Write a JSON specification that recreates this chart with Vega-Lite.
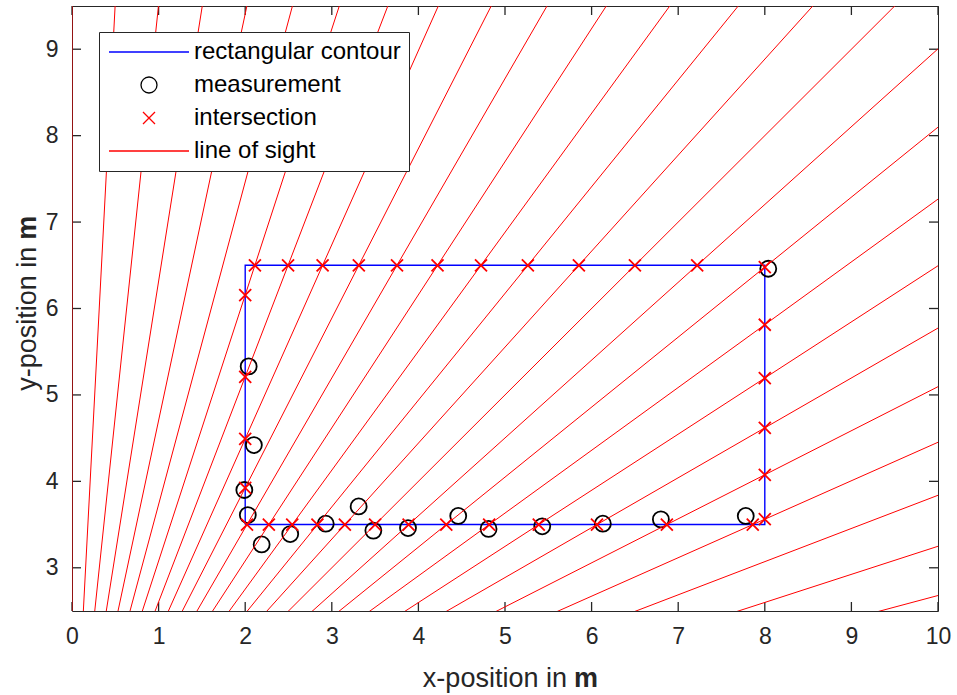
{
  "$schema": "https://vega.github.io/schema/vega-lite/v6.json",
  "width": 866,
  "height": 605,
  "autosize": {"type": "none"},
  "padding": {"left": 72, "top": 6, "right": 19, "bottom": 84},
  "background": "white",
  "config": {
    "font": "Liberation Sans",
    "view": {"stroke": null},
    "axis": {
      "grid": false,
      "title": null,
      "ticks": false,
      "domainColor": "#262626",
      "domainWidth": 1,
      "labelFont": "Liberation Sans",
      "labelFontSize": 23,
      "labelColor": "#262626",
      "labelFlush": false,
      "labelPadding": 14
    }
  },
  "datasets": {
    "xticks": [{"v": 0}, {"v": 1}, {"v": 2}, {"v": 3}, {"v": 4}, {"v": 5}, {"v": 6}, {"v": 7}, {"v": 8}, {"v": 9}, {"v": 10}],
    "yticks": [{"v": 3}, {"v": 4}, {"v": 5}, {"v": 6}, {"v": 7}, {"v": 8}, {"v": 9}],
    "contour": [
      {"series": "rectangular contour", "step": 1, "x": 2, "y": 3.5},
      {"series": "rectangular contour", "step": 2, "x": 8, "y": 3.5},
      {"series": "rectangular contour", "step": 3, "x": 8, "y": 6.5},
      {"series": "rectangular contour", "step": 4, "x": 2, "y": 6.5},
      {"series": "rectangular contour", "step": 5, "x": 2, "y": 3.5}
    ],
    "markers": [
      {"series": "measurement", "x": 2.04, "y": 5.33},
      {"series": "measurement", "x": 2.10, "y": 4.42},
      {"series": "measurement", "x": 1.99, "y": 3.90},
      {"series": "measurement", "x": 2.03, "y": 3.61},
      {"series": "measurement", "x": 2.19, "y": 3.27},
      {"series": "measurement", "x": 2.52, "y": 3.39},
      {"series": "measurement", "x": 2.93, "y": 3.51},
      {"series": "measurement", "x": 3.31, "y": 3.71},
      {"series": "measurement", "x": 3.48, "y": 3.43},
      {"series": "measurement", "x": 3.88, "y": 3.46},
      {"series": "measurement", "x": 4.46, "y": 3.60},
      {"series": "measurement", "x": 4.81, "y": 3.45},
      {"series": "measurement", "x": 5.43, "y": 3.48},
      {"series": "measurement", "x": 6.13, "y": 3.51},
      {"series": "measurement", "x": 6.80, "y": 3.56},
      {"series": "measurement", "x": 7.78, "y": 3.60},
      {"series": "measurement", "x": 8.04, "y": 6.46},
      {"series": "intersection", "x": 2, "y": 6.155},
      {"series": "intersection", "x": 2, "y": 5.210},
      {"series": "intersection", "x": 2, "y": 4.492},
      {"series": "intersection", "x": 2, "y": 3.925},
      {"series": "intersection", "x": 2.112, "y": 6.5},
      {"series": "intersection", "x": 2.495, "y": 6.5},
      {"series": "intersection", "x": 2.894, "y": 6.5},
      {"series": "intersection", "x": 3.312, "y": 6.5},
      {"series": "intersection", "x": 3.753, "y": 6.5},
      {"series": "intersection", "x": 4.221, "y": 6.5},
      {"series": "intersection", "x": 4.723, "y": 6.5},
      {"series": "intersection", "x": 5.264, "y": 6.5},
      {"series": "intersection", "x": 5.853, "y": 6.5},
      {"series": "intersection", "x": 6.5, "y": 6.5},
      {"series": "intersection", "x": 7.219, "y": 6.5},
      {"series": "intersection", "x": 2.021, "y": 3.5},
      {"series": "intersection", "x": 2.273, "y": 3.5},
      {"series": "intersection", "x": 2.543, "y": 3.5},
      {"series": "intersection", "x": 2.834, "y": 3.5},
      {"series": "intersection", "x": 3.151, "y": 3.5},
      {"series": "intersection", "x": 3.5, "y": 3.5},
      {"series": "intersection", "x": 3.887, "y": 3.5},
      {"series": "intersection", "x": 4.322, "y": 3.5},
      {"series": "intersection", "x": 4.817, "y": 3.5},
      {"series": "intersection", "x": 5.390, "y": 3.5},
      {"series": "intersection", "x": 6.062, "y": 3.5},
      {"series": "intersection", "x": 6.869, "y": 3.5},
      {"series": "intersection", "x": 7.861, "y": 3.5},
      {"series": "intersection", "x": 8, "y": 6.478},
      {"series": "intersection", "x": 8, "y": 5.812},
      {"series": "intersection", "x": 8, "y": 5.195},
      {"series": "intersection", "x": 8, "y": 4.619},
      {"series": "intersection", "x": 8, "y": 4.076},
      {"series": "intersection", "x": 8, "y": 3.562}
    ],
    "rays": [
      {"series": "line of sight", "angle": 90, "x0": 0, "y0": 0, "x1": 0, "y1": 15},
      {"series": "line of sight", "angle": 87, "x0": 0, "y0": 0, "x1": 0.785, "y1": 14.979},
      {"series": "line of sight", "angle": 84, "x0": 0, "y0": 0, "x1": 1.568, "y1": 14.918},
      {"series": "line of sight", "angle": 81, "x0": 0, "y0": 0, "x1": 2.346, "y1": 14.815},
      {"series": "line of sight", "angle": 78, "x0": 0, "y0": 0, "x1": 3.119, "y1": 14.672},
      {"series": "line of sight", "angle": 75, "x0": 0, "y0": 0, "x1": 3.882, "y1": 14.489},
      {"series": "line of sight", "angle": 72, "x0": 0, "y0": 0, "x1": 4.635, "y1": 14.266},
      {"series": "line of sight", "angle": 69, "x0": 0, "y0": 0, "x1": 5.376, "y1": 14.004},
      {"series": "line of sight", "angle": 66, "x0": 0, "y0": 0, "x1": 6.101, "y1": 13.703},
      {"series": "line of sight", "angle": 63, "x0": 0, "y0": 0, "x1": 6.810, "y1": 13.365},
      {"series": "line of sight", "angle": 60, "x0": 0, "y0": 0, "x1": 7.5, "y1": 12.990},
      {"series": "line of sight", "angle": 57, "x0": 0, "y0": 0, "x1": 8.170, "y1": 12.580},
      {"series": "line of sight", "angle": 54, "x0": 0, "y0": 0, "x1": 8.817, "y1": 12.135},
      {"series": "line of sight", "angle": 51, "x0": 0, "y0": 0, "x1": 9.440, "y1": 11.657},
      {"series": "line of sight", "angle": 48, "x0": 0, "y0": 0, "x1": 10.037, "y1": 11.147},
      {"series": "line of sight", "angle": 45, "x0": 0, "y0": 0, "x1": 10.607, "y1": 10.607},
      {"series": "line of sight", "angle": 42, "x0": 0, "y0": 0, "x1": 11.147, "y1": 10.037},
      {"series": "line of sight", "angle": 39, "x0": 0, "y0": 0, "x1": 11.657, "y1": 9.440},
      {"series": "line of sight", "angle": 36, "x0": 0, "y0": 0, "x1": 12.135, "y1": 8.817},
      {"series": "line of sight", "angle": 33, "x0": 0, "y0": 0, "x1": 12.580, "y1": 8.170},
      {"series": "line of sight", "angle": 30, "x0": 0, "y0": 0, "x1": 12.990, "y1": 7.5},
      {"series": "line of sight", "angle": 27, "x0": 0, "y0": 0, "x1": 13.365, "y1": 6.810},
      {"series": "line of sight", "angle": 24, "x0": 0, "y0": 0, "x1": 13.703, "y1": 6.101},
      {"series": "line of sight", "angle": 21, "x0": 0, "y0": 0, "x1": 14.004, "y1": 5.376},
      {"series": "line of sight", "angle": 18, "x0": 0, "y0": 0, "x1": 14.266, "y1": 4.635},
      {"series": "line of sight", "angle": 15, "x0": 0, "y0": 0, "x1": 14.489, "y1": 3.882}
    ]
  },
  "resolve": {"axis": {"x": "independent", "y": "independent"}},
  "layer": [
    {
      "data": {"name": "xticks"},
      "mark": {"type": "rule", "strokeWidth": 1.3, "color": "#262626", "opacity": 1},
      "encoding": {
        "x": {"field": "v", "type": "quantitative", "axis": null},
        "y": {"datum": 2.5, "type": "quantitative", "axis": null},
        "y2": {"datum": 2.604}
      }
    },
    {
      "data": {"name": "xticks"},
      "mark": {"type": "rule", "strokeWidth": 1.3, "color": "#262626", "opacity": 1},
      "encoding": {
        "x": {"field": "v", "type": "quantitative", "axis": null},
        "y": {"datum": 9.5, "type": "quantitative", "axis": null},
        "y2": {"datum": 9.396}
      }
    },
    {
      "data": {"name": "yticks"},
      "mark": {"type": "rule", "strokeWidth": 1.3, "color": "#262626", "opacity": 1},
      "encoding": {
        "y": {"field": "v", "type": "quantitative", "axis": null},
        "x": {"datum": 0, "type": "quantitative", "axis": null},
        "x2": {"datum": 0.104}
      }
    },
    {
      "data": {"name": "yticks"},
      "mark": {"type": "rule", "strokeWidth": 1.3, "color": "#262626", "opacity": 1},
      "encoding": {
        "y": {"field": "v", "type": "quantitative", "axis": null},
        "x": {"datum": 10, "type": "quantitative", "axis": null},
        "x2": {"datum": 9.896}
      }
    },
    {
      "data": {"name": "contour"},
      "mark": {"type": "line", "strokeWidth": 1.4, "opacity": 1},
      "encoding": {
        "x": {"field": "x", "type": "quantitative", "scale": {"domain": [0, 10], "nice": false, "zero": false},
              "axis": {"orient": "bottom", "values": [0, 1, 2, 3, 4, 5, 6, 7, 8, 9, 10]}},
        "y": {"field": "y", "type": "quantitative", "scale": {"domain": [2.5, 9.5], "nice": false, "zero": false},
              "axis": {"orient": "left", "values": [3, 4, 5, 6, 7, 8, 9]}},
        "order": {"field": "step"},
        "color": {"field": "series", "type": "nominal"}
      }
    },
    {
      "data": {"name": "markers"},
      "mark": {"type": "point", "filled": false, "size": 400, "strokeWidth": 1.8, "opacity": 1},
      "encoding": {
        "x": {"field": "x", "type": "quantitative",
              "axis": {"orient": "top", "values": [0, 1, 2, 3, 4, 5, 6, 7, 8, 9, 10], "labels": false}},
        "y": {"field": "y", "type": "quantitative",
              "axis": {"orient": "right", "values": [3, 4, 5, 6, 7, 8, 9], "labels": false}},
        "color": {
          "field": "series", "type": "nominal",
          "scale": {
            "domain": ["rectangular contour", "measurement", "intersection", "line of sight"],
            "range": ["#0000ff", "#000000", "#ff0000", "#ff0000"]
          },
          "legend": {
            "orient": "none", "legendX": 27, "legendY": 26, "title": null,
            "labelFont": "Liberation Sans", "labelFontSize": 24, "labelColor": "#000000", "labelLimit": 0,
            "symbolSize": 400, "symbolStrokeWidth": 1.3, "symbolOffset": 30,
            "strokeColor": "#262626", "fillColor": "white", "padding": 8,
            "rowPadding": 9, "labelOffset": 33
          }
        },
        "shape": {
          "field": "series", "type": "nominal",
          "scale": {
            "domain": ["rectangular contour", "measurement", "intersection", "line of sight"],
            "range": [
              "M-4,0L4,0",
              "M0.8,0A0.8,0.8,0,1,1,-0.8,0A0.8,0.8,0,1,1,0.8,0Z",
              "M-0.6,-0.6L0.6,0.6M-0.6,0.6L0.6,-0.6",
              "M-4,0L4,0"
            ]
          },
          "legend": {
            "orient": "none", "legendX": 27, "legendY": 26, "title": null,
            "labelFont": "Liberation Sans", "labelFontSize": 24, "labelColor": "#000000", "labelLimit": 0,
            "symbolSize": 400, "symbolStrokeWidth": 1.3, "symbolOffset": 30,
            "strokeColor": "#262626", "fillColor": "white", "padding": 8,
            "rowPadding": 9, "labelOffset": 33
          }
        }
      }
    },
    {
      "data": {"name": "rays"},
      "mark": {"type": "rule", "strokeWidth": 1, "clip": true, "opacity": 1},
      "encoding": {
        "x": {"field": "x0", "type": "quantitative", "axis": null},
        "y": {"field": "y0", "type": "quantitative", "axis": null},
        "x2": {"field": "x1"},
        "y2": {"field": "y1"},
        "color": {"field": "series", "type": "nominal"}
      }
    },
    {
      "data": {"values": [{"label": "x-position in"}]},
      "mark": {"type": "text", "align": "right", "baseline": "middle", "dy": 68, "dx": -3, "fontSize": 27, "color": "#262626"},
      "encoding": {
        "x": {"datum": 5.75, "type": "quantitative", "axis": null},
        "y": {"datum": 2.5, "type": "quantitative", "axis": null},
        "text": {"field": "label"}
      }
    },
    {
      "data": {"values": [{"label": "m"}]},
      "mark": {"type": "text", "align": "left", "baseline": "middle", "dy": 68, "dx": 4, "fontSize": 27, "fontWeight": "bold", "color": "#262626"},
      "encoding": {
        "x": {"datum": 5.75, "type": "quantitative", "axis": null},
        "y": {"datum": 2.5, "type": "quantitative", "axis": null},
        "text": {"field": "label"}
      }
    },
    {
      "data": {"values": [{"label": "y-position in"}]},
      "mark": {"type": "text", "align": "right", "baseline": "middle", "angle": 270, "dx": -3, "xOffset": -44, "fontSize": 27, "color": "#262626"},
      "encoding": {
        "x": {"datum": 0, "type": "quantitative", "axis": null},
        "y": {"datum": 6.75, "type": "quantitative", "axis": null},
        "text": {"field": "label"}
      }
    },
    {
      "data": {"values": [{"label": "m"}]},
      "mark": {"type": "text", "align": "left", "baseline": "middle", "angle": 270, "dx": 4, "xOffset": -44, "fontSize": 27, "fontWeight": "bold", "color": "#262626"},
      "encoding": {
        "x": {"datum": 0, "type": "quantitative", "axis": null},
        "y": {"datum": 6.75, "type": "quantitative", "axis": null},
        "text": {"field": "label"}
      }
    }
  ]
}
